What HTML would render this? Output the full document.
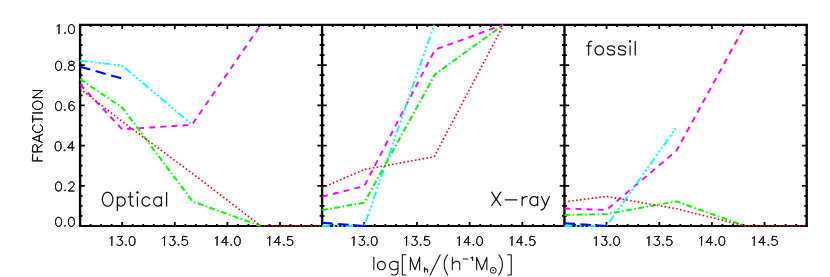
<!DOCTYPE html>
<html><head><meta charset="utf-8"><title>plot</title><style>html,body{margin:0;padding:0;background:#fff;font-family:"Liberation Sans",sans-serif}svg{display:block}</style></head><body><svg width="830" height="277" viewBox="0 0 830 277">
<rect width="830" height="277" fill="#fff"/>
<path d="M78.93 24.9H807.87M78.93 226.0H807.87" stroke="#000" stroke-width="2.15" fill="none"/><path d="M80.1 24.9V226.0M322.1 24.9V226.0M564.45 24.9V226.0M806.7 24.9V226.0" stroke="#000" stroke-width="2.35" fill="none"/>
<path d="M90.62 226.00v-2.00M90.62 24.90v2.00M101.14 226.00v-2.00M101.14 24.90v2.00M111.67 226.00v-2.00M111.67 24.90v2.00M122.19 226.00v-4.00M122.19 24.90v4.00M132.71 226.00v-2.00M132.71 24.90v2.00M143.23 226.00v-2.00M143.23 24.90v2.00M153.75 226.00v-2.00M153.75 24.90v2.00M164.27 226.00v-2.00M164.27 24.90v2.00M174.80 226.00v-4.00M174.80 24.90v4.00M185.32 226.00v-2.00M185.32 24.90v2.00M195.84 226.00v-2.00M195.84 24.90v2.00M206.36 226.00v-2.00M206.36 24.90v2.00M216.88 226.00v-2.00M216.88 24.90v2.00M227.40 226.00v-4.00M227.40 24.90v4.00M237.93 226.00v-2.00M237.93 24.90v2.00M248.45 226.00v-2.00M248.45 24.90v2.00M258.97 226.00v-2.00M258.97 24.90v2.00M269.49 226.00v-2.00M269.49 24.90v2.00M280.01 226.00v-4.00M280.01 24.90v4.00M290.53 226.00v-2.00M290.53 24.90v2.00M301.06 226.00v-2.00M301.06 24.90v2.00M311.58 226.00v-2.00M311.58 24.90v2.00M332.64 226.00v-2.00M332.64 24.90v2.00M343.17 226.00v-2.00M343.17 24.90v2.00M353.71 226.00v-2.00M353.71 24.90v2.00M364.25 226.00v-4.00M364.25 24.90v4.00M374.78 226.00v-2.00M374.78 24.90v2.00M385.32 226.00v-2.00M385.32 24.90v2.00M395.86 226.00v-2.00M395.86 24.90v2.00M406.40 226.00v-2.00M406.40 24.90v2.00M416.93 226.00v-4.00M416.93 24.90v4.00M427.47 226.00v-2.00M427.47 24.90v2.00M438.01 226.00v-2.00M438.01 24.90v2.00M448.54 226.00v-2.00M448.54 24.90v2.00M459.08 226.00v-2.00M459.08 24.90v2.00M469.62 226.00v-4.00M469.62 24.90v4.00M480.15 226.00v-2.00M480.15 24.90v2.00M490.69 226.00v-2.00M490.69 24.90v2.00M501.23 226.00v-2.00M501.23 24.90v2.00M511.77 226.00v-2.00M511.77 24.90v2.00M522.30 226.00v-4.00M522.30 24.90v4.00M532.84 226.00v-2.00M532.84 24.90v2.00M543.38 226.00v-2.00M543.38 24.90v2.00M553.91 226.00v-2.00M553.91 24.90v2.00M574.98 226.00v-2.00M574.98 24.90v2.00M585.52 226.00v-2.00M585.52 24.90v2.00M596.05 226.00v-2.00M596.05 24.90v2.00M606.58 226.00v-4.00M606.58 24.90v4.00M617.11 226.00v-2.00M617.11 24.90v2.00M627.65 226.00v-2.00M627.65 24.90v2.00M638.18 226.00v-2.00M638.18 24.90v2.00M648.71 226.00v-2.00M648.71 24.90v2.00M659.24 226.00v-4.00M659.24 24.90v4.00M669.78 226.00v-2.00M669.78 24.90v2.00M680.31 226.00v-2.00M680.31 24.90v2.00M690.84 226.00v-2.00M690.84 24.90v2.00M701.37 226.00v-2.00M701.37 24.90v2.00M711.91 226.00v-4.00M711.91 24.90v4.00M722.44 226.00v-2.00M722.44 24.90v2.00M732.97 226.00v-2.00M732.97 24.90v2.00M743.50 226.00v-2.00M743.50 24.90v2.00M754.04 226.00v-2.00M754.04 24.90v2.00M764.57 226.00v-4.00M764.57 24.90v4.00M775.10 226.00v-2.00M775.10 24.90v2.00M785.63 226.00v-2.00M785.63 24.90v2.00M796.17 226.00v-2.00M796.17 24.90v2.00M80.10 215.94h2.45M319.65 215.94h4.90M562.00 215.94h4.90M806.70 215.94h-2.45M80.10 205.89h2.45M319.65 205.89h4.90M562.00 205.89h4.90M806.70 205.89h-2.45M80.10 195.84h2.45M319.65 195.84h4.90M562.00 195.84h4.90M806.70 195.84h-2.45M80.10 185.78h4.70M317.40 185.78h9.40M559.75 185.78h9.40M806.70 185.78h-4.70M80.10 175.72h2.45M319.65 175.72h4.90M562.00 175.72h4.90M806.70 175.72h-2.45M80.10 165.67h2.45M319.65 165.67h4.90M562.00 165.67h4.90M806.70 165.67h-2.45M80.10 155.62h2.45M319.65 155.62h4.90M562.00 155.62h4.90M806.70 155.62h-2.45M80.10 145.56h4.70M317.40 145.56h9.40M559.75 145.56h9.40M806.70 145.56h-4.70M80.10 135.50h2.45M319.65 135.50h4.90M562.00 135.50h4.90M806.70 135.50h-2.45M80.10 125.45h2.45M319.65 125.45h4.90M562.00 125.45h4.90M806.70 125.45h-2.45M80.10 115.39h2.45M319.65 115.39h4.90M562.00 115.39h4.90M806.70 115.39h-2.45M80.10 105.34h4.70M317.40 105.34h9.40M559.75 105.34h9.40M806.70 105.34h-4.70M80.10 95.28h2.45M319.65 95.28h4.90M562.00 95.28h4.90M806.70 95.28h-2.45M80.10 85.23h2.45M319.65 85.23h4.90M562.00 85.23h4.90M806.70 85.23h-2.45M80.10 75.18h2.45M319.65 75.18h4.90M562.00 75.18h4.90M806.70 75.18h-2.45M80.10 65.12h4.70M317.40 65.12h9.40M559.75 65.12h9.40M806.70 65.12h-4.70M80.10 55.06h2.45M319.65 55.06h4.90M562.00 55.06h4.90M806.70 55.06h-2.45M80.10 45.01h2.45M319.65 45.01h4.90M562.00 45.01h4.90M806.70 45.01h-2.45M80.10 34.95h2.45M319.65 34.95h4.90M562.00 34.95h4.90M806.70 34.95h-2.45" stroke="#000" stroke-width="1.8" fill="none"/>
<path d="M80.10 84.43 L122.19 129.27 L191.95 124.85 L260.86 24.90" stroke="#ff00ff" stroke-width="1.9" stroke-dasharray="5.95 5.13" fill="none" stroke-linejoin="round"/>
<path d="M80.10 60.70 L122.19 65.52 L191.95 124.44" stroke="#00ffff" stroke-width="1.8" stroke-dasharray="7.691 3.036 2.024 2.024 2.024 2.024 2.024 2.226" fill="none" stroke-linejoin="round"/>
<path d="M80.10 66.73 L122.19 78.59" stroke="#0000ff" stroke-width="2.1" stroke-dasharray="10.5 5.6" fill="none" stroke-linejoin="round"/>
<path d="M80.10 79.20 L122.19 107.55 L192.68 201.47 L260.86 226.00" stroke="#00ff00" stroke-width="2.0" stroke-dasharray="5.8 2.55 1.5 2.55" fill="none" stroke-linejoin="round"/>
<path d="M80.10 88.65 L122.19 121.43 L191.95 173.11 L260.86 226.00 L322.10 226.00" stroke="#ff0000" stroke-width="1.65" stroke-dasharray="1.55 2.35" fill="none" stroke-linejoin="round"/>
<path d="M322.10 196.64 L364.25 186.18 L434.95 49.64 L503.12 24.90" stroke="#ff00ff" stroke-width="1.9" stroke-dasharray="5.95 5.13" fill="none" stroke-linejoin="round"/>
<path d="M322.10 226.00 L364.25 226.00 L434.11 24.90" stroke="#00ffff" stroke-width="1.8" stroke-dasharray="7.828 3.090 2.060 2.060 2.060 2.060 2.060 2.266" fill="none" stroke-linejoin="round"/>
<path d="M322.10 222.78 L364.25 226.00" stroke="#0000ff" stroke-width="2.1" stroke-dasharray="10.5 5.6" fill="none" stroke-linejoin="round"/>
<path d="M322.10 210.11 L364.25 202.67 L435.06 74.37 L503.12 24.90" stroke="#00ff00" stroke-width="2.0" stroke-dasharray="5.8 2.55 1.5 2.55" fill="none" stroke-linejoin="round"/>
<path d="M322.10 187.79 L364.25 169.49 L434.11 156.82 L503.55 24.90" stroke="#ff0000" stroke-width="1.65" stroke-dasharray="1.55 2.35" fill="none" stroke-linejoin="round"/>
<path d="M564.45 208.50 L606.58 209.91 L676.41 150.79 L745.40 24.90" stroke="#ff00ff" stroke-width="1.9" stroke-dasharray="5.95 5.13" fill="none" stroke-linejoin="round"/>
<path d="M564.45 226.00 L606.58 226.00 L676.41 127.46" stroke="#00ffff" stroke-width="1.8" stroke-dasharray="7.828 3.090 2.060 2.060 2.060 2.060 2.060 2.266" fill="none" stroke-linejoin="round"/>
<path d="M564.45 223.18 L606.58 226.00" stroke="#0000ff" stroke-width="2.1" stroke-dasharray="10.5 5.6" fill="none" stroke-linejoin="round"/>
<path d="M564.45 214.94 L606.58 214.14 L676.41 201.37 L745.40 226.00" stroke="#00ff00" stroke-width="2.0" stroke-dasharray="5.8 2.55 1.5 2.55" fill="none" stroke-linejoin="round"/>
<path d="M564.45 201.77 L606.58 196.44 L676.41 208.71 L745.40 226.00 L806.70 226.00" stroke="#ff0000" stroke-width="1.65" stroke-dasharray="1.55 2.35" fill="none" stroke-linejoin="round"/>
<path d="M58.11 182.00L58.97 182.00L60.26 182.43L61.12 183.72L61.55 185.87L61.55 187.16L61.12 189.31L60.26 190.60L58.97 191.03L58.11 191.03L56.82 190.60L55.96 189.31L55.53 187.16L55.53 185.87L55.96 183.72L56.82 182.43ZM58.11 182.00L56.82 182.43L55.96 183.72L55.53 185.87L55.53 187.16L55.96 189.31L56.82 190.60L58.11 191.03L58.97 191.03L60.26 190.60L61.12 189.31L61.55 187.16L61.55 185.87L61.12 183.72L60.26 182.43L58.97 182.00ZM64.99 190.17L65.42 190.60L64.99 191.03L64.56 190.60ZM64.99 190.17L64.56 190.60L64.99 191.03L65.42 190.60ZM70.58 182.00L69.72 182.43L69.29 182.86L68.86 183.72L68.86 184.15L68.86 183.72L69.29 182.86L69.72 182.43L70.58 182.00L72.30 182.00L73.16 182.43L73.59 182.86L74.02 183.72L74.02 184.58L72.73 186.73L68.43 191.03L74.45 191.03L68.43 191.03L72.73 186.73L74.02 184.58L74.02 183.72L73.59 182.86L73.16 182.43L72.30 182.00Z" stroke="#111" stroke-width="0.95" fill="none" stroke-linejoin="round" stroke-linecap="round"/>
<path d="M57.68 141.78L58.54 141.78L59.83 142.21L60.69 143.50L61.12 145.65L61.12 146.94L60.69 149.09L59.83 150.38L58.54 150.81L57.68 150.81L56.39 150.38L55.53 149.09L55.10 146.94L55.10 145.65L55.53 143.50L56.39 142.21ZM57.68 141.78L56.39 142.21L55.53 143.50L55.10 145.65L55.10 146.94L55.53 149.09L56.39 150.38L57.68 150.81L58.54 150.81L59.83 150.38L60.69 149.09L61.12 146.94L61.12 145.65L60.69 143.50L59.83 142.21L58.54 141.78ZM64.56 149.95L64.99 150.38L64.56 150.81L64.13 150.38ZM64.56 149.95L64.13 150.38L64.56 150.81L64.99 150.38ZM72.30 141.78L72.30 147.80L68.00 147.80ZM72.30 141.78L68.00 147.80L72.30 147.80L72.30 150.81L72.30 147.80L74.45 147.80L72.30 147.80Z" stroke="#111" stroke-width="0.95" fill="none" stroke-linejoin="round" stroke-linecap="round"/>
<path d="M58.11 101.56L58.97 101.56L60.26 101.99L61.12 103.28L61.55 105.43L61.55 106.72L61.12 108.87L60.26 110.16L58.97 110.59L58.11 110.59L56.82 110.16L55.96 108.87L55.53 106.72L55.53 105.43L55.96 103.28L56.82 101.99ZM58.11 101.56L56.82 101.99L55.96 103.28L55.53 105.43L55.53 106.72L55.96 108.87L56.82 110.16L58.11 110.59L58.97 110.59L60.26 110.16L61.12 108.87L61.55 106.72L61.55 105.43L61.12 103.28L60.26 101.99L58.97 101.56ZM64.99 109.73L65.42 110.16L64.99 110.59L64.56 110.16ZM64.99 109.73L64.56 110.16L64.99 110.59L65.42 110.16ZM71.44 105.00L71.87 105.00L73.16 105.43L74.02 106.29L74.45 107.58L74.45 108.01L74.02 109.30L73.16 110.16L71.87 110.59L71.44 110.59L70.15 110.16L69.29 109.30L68.86 107.58L69.29 106.29L70.15 105.43ZM71.44 101.56L72.30 101.56L73.59 101.99L74.02 102.85L73.59 101.99L72.30 101.56L71.44 101.56L70.15 101.99L69.29 103.28L68.86 105.43L68.86 107.58L69.29 109.30L70.15 110.16L71.44 110.59L71.87 110.59L73.16 110.16L74.02 109.30L74.45 108.01L74.45 107.58L74.02 106.29L73.16 105.43L71.87 105.00L71.44 105.00L70.15 105.43L69.29 106.29L68.86 107.58L68.86 105.43L69.29 103.28L70.15 101.99Z" stroke="#111" stroke-width="0.95" fill="none" stroke-linejoin="round" stroke-linecap="round"/>
<path d="M58.11 61.34L58.97 61.34L60.26 61.77L61.12 63.06L61.55 65.21L61.55 66.50L61.12 68.65L60.26 69.94L58.97 70.37L58.11 70.37L56.82 69.94L55.96 68.65L55.53 66.50L55.53 65.21L55.96 63.06L56.82 61.77ZM58.11 61.34L56.82 61.77L55.96 63.06L55.53 65.21L55.53 66.50L55.96 68.65L56.82 69.94L58.11 70.37L58.97 70.37L60.26 69.94L61.12 68.65L61.55 66.50L61.55 65.21L61.12 63.06L60.26 61.77L58.97 61.34ZM64.99 69.51L65.42 69.94L64.99 70.37L64.56 69.94ZM64.99 69.51L64.56 69.94L64.99 70.37L65.42 69.94ZM69.72 65.64L71.44 65.21L73.16 65.64L74.02 66.50L74.45 67.36L74.45 68.65L74.02 69.51L73.59 69.94L72.30 70.37L70.58 70.37L69.29 69.94L68.86 69.51L68.43 68.65L68.43 67.36L68.86 66.50ZM68.86 62.63L69.29 61.77L70.58 61.34L72.30 61.34L73.59 61.77L74.02 62.63L74.02 63.49L73.59 64.35L72.73 64.78L71.44 65.21L70.15 64.78L69.29 64.35L68.86 63.49ZM70.58 61.34L69.29 61.77L68.86 62.63L68.86 63.49L69.29 64.35L70.15 64.78L71.44 65.21L69.72 65.64L68.86 66.50L68.43 67.36L68.43 68.65L68.86 69.51L69.29 69.94L70.58 70.37L72.30 70.37L73.59 69.94L74.02 69.51L74.45 68.65L74.45 67.36L74.02 66.50L73.16 65.64L71.44 65.21L72.73 64.78L73.59 64.35L74.02 63.49L74.02 62.63L73.59 61.77L72.30 61.34Z" stroke="#111" stroke-width="0.95" fill="none" stroke-linejoin="round" stroke-linecap="round"/>
<path d="M58.97 24.62L57.68 25.91L56.82 26.34L57.68 25.91L58.97 24.62L58.97 33.65ZM64.99 32.79L65.42 33.22L64.99 33.65L64.56 33.22ZM64.99 32.79L64.56 33.22L64.99 33.65L65.42 33.22ZM71.01 24.62L71.87 24.62L73.16 25.05L74.02 26.34L74.45 28.49L74.45 29.78L74.02 31.93L73.16 33.22L71.87 33.65L71.01 33.65L69.72 33.22L68.86 31.93L68.43 29.78L68.43 28.49L68.86 26.34L69.72 25.05ZM71.01 24.62L69.72 25.05L68.86 26.34L68.43 28.49L68.43 29.78L68.86 31.93L69.72 33.22L71.01 33.65L71.87 33.65L73.16 33.22L74.02 31.93L74.45 29.78L74.45 28.49L74.02 26.34L73.16 25.05L71.87 24.62Z" stroke="#111" stroke-width="0.95" fill="none" stroke-linejoin="round" stroke-linecap="round"/>
<path d="M58.11 217.37L58.97 217.37L60.26 217.80L61.12 219.09L61.55 221.24L61.55 222.53L61.12 224.68L60.26 225.97L58.97 226.40L58.11 226.40L56.82 225.97L55.96 224.68L55.53 222.53L55.53 221.24L55.96 219.09L56.82 217.80ZM58.11 217.37L56.82 217.80L55.96 219.09L55.53 221.24L55.53 222.53L55.96 224.68L56.82 225.97L58.11 226.40L58.97 226.40L60.26 225.97L61.12 224.68L61.55 222.53L61.55 221.24L61.12 219.09L60.26 217.80L58.97 217.37ZM64.99 225.54L65.42 225.97L64.99 226.40L64.56 225.97ZM64.99 225.54L64.56 225.97L64.99 226.40L65.42 225.97ZM71.01 217.37L71.87 217.37L73.16 217.80L74.02 219.09L74.45 221.24L74.45 222.53L74.02 224.68L73.16 225.97L71.87 226.40L71.01 226.40L69.72 225.97L68.86 224.68L68.43 222.53L68.43 221.24L68.86 219.09L69.72 217.80ZM71.01 217.37L69.72 217.80L68.86 219.09L68.43 221.24L68.43 222.53L68.86 224.68L69.72 225.97L71.01 226.40L71.87 226.40L73.16 225.97L74.02 224.68L74.45 222.53L74.45 221.24L74.02 219.09L73.16 217.80L71.87 217.37Z" stroke="#111" stroke-width="0.95" fill="none" stroke-linejoin="round" stroke-linecap="round"/>
<path d="M111.80 236.63L110.56 237.89L109.73 238.31L110.56 237.89L111.80 236.63L111.80 245.45ZM117.61 236.63L122.18 236.63L119.69 239.99L120.93 239.99L121.76 240.41L122.18 240.83L122.59 242.09L122.59 242.93L122.18 244.19L121.35 245.03L120.10 245.45L118.86 245.45L117.61 245.03L117.20 244.61L116.78 243.77L117.20 244.61L117.61 245.03L118.86 245.45L120.10 245.45L121.35 245.03L122.18 244.19L122.59 242.93L122.59 242.09L122.18 240.83L121.76 240.41L120.93 239.99L119.69 239.99L122.18 236.63ZM125.91 244.61L126.33 245.03L125.91 245.45L125.50 245.03ZM125.91 244.61L125.50 245.03L125.91 245.45L126.33 245.03ZM131.72 236.63L132.55 236.63L133.80 237.05L134.63 238.31L135.04 240.41L135.04 241.67L134.63 243.77L133.80 245.03L132.55 245.45L131.72 245.45L130.48 245.03L129.65 243.77L129.23 241.67L129.23 240.41L129.65 238.31L130.48 237.05ZM131.72 236.63L130.48 237.05L129.65 238.31L129.23 240.41L129.23 241.67L129.65 243.77L130.48 245.03L131.72 245.45L132.55 245.45L133.80 245.03L134.63 243.77L135.04 241.67L135.04 240.41L134.63 238.31L133.80 237.05L132.55 236.63Z" stroke="#111" stroke-width="0.95" fill="none" stroke-linejoin="round" stroke-linecap="round"/>
<path d="M164.41 236.63L163.17 237.89L162.34 238.31L163.17 237.89L164.41 236.63L164.41 245.45ZM170.22 236.63L174.79 236.63L172.30 239.99L173.54 239.99L174.37 240.41L174.79 240.83L175.20 242.09L175.20 242.93L174.79 244.19L173.96 245.03L172.71 245.45L171.47 245.45L170.22 245.03L169.81 244.61L169.39 243.77L169.81 244.61L170.22 245.03L171.47 245.45L172.71 245.45L173.96 245.03L174.79 244.19L175.20 242.93L175.20 242.09L174.79 240.83L174.37 240.41L173.54 239.99L172.30 239.99L174.79 236.63ZM178.52 244.61L178.94 245.03L178.52 245.45L178.11 245.03ZM178.52 244.61L178.11 245.03L178.52 245.45L178.94 245.03ZM182.67 236.63L182.26 240.41L182.67 239.99L183.92 239.57L185.16 239.57L186.41 239.99L187.24 240.83L187.65 242.09L187.65 242.93L187.24 244.19L186.41 245.03L185.16 245.45L183.92 245.45L182.67 245.03L182.26 244.61L181.84 243.77L182.26 244.61L182.67 245.03L183.92 245.45L185.16 245.45L186.41 245.03L187.24 244.19L187.65 242.93L187.65 242.09L187.24 240.83L186.41 239.99L185.16 239.57L183.92 239.57L182.67 239.99L182.26 240.41L182.67 236.63L186.82 236.63Z" stroke="#111" stroke-width="0.95" fill="none" stroke-linejoin="round" stroke-linecap="round"/>
<path d="M217.02 236.63L215.78 237.89L214.95 238.31L215.78 237.89L217.02 236.63L217.02 245.45ZM226.15 236.63L226.15 242.51L222.00 242.51ZM226.15 236.63L222.00 242.51L226.15 242.51L226.15 245.45L226.15 242.51L228.23 242.51L226.15 242.51ZM231.13 244.61L231.55 245.03L231.13 245.45L230.72 245.03ZM231.13 244.61L230.72 245.03L231.13 245.45L231.55 245.03ZM236.94 236.63L237.77 236.63L239.02 237.05L239.85 238.31L240.26 240.41L240.26 241.67L239.85 243.77L239.02 245.03L237.77 245.45L236.94 245.45L235.70 245.03L234.87 243.77L234.45 241.67L234.45 240.41L234.87 238.31L235.70 237.05ZM236.94 236.63L235.70 237.05L234.87 238.31L234.45 240.41L234.45 241.67L234.87 243.77L235.70 245.03L236.94 245.45L237.77 245.45L239.02 245.03L239.85 243.77L240.26 241.67L240.26 240.41L239.85 238.31L239.02 237.05L237.77 236.63Z" stroke="#111" stroke-width="0.95" fill="none" stroke-linejoin="round" stroke-linecap="round"/>
<path d="M269.63 236.63L268.39 237.89L267.56 238.31L268.39 237.89L269.63 236.63L269.63 245.45ZM278.76 236.63L278.76 242.51L274.61 242.51ZM278.76 236.63L274.61 242.51L278.76 242.51L278.76 245.45L278.76 242.51L280.84 242.51L278.76 242.51ZM283.74 244.61L284.16 245.03L283.74 245.45L283.33 245.03ZM283.74 244.61L283.33 245.03L283.74 245.45L284.16 245.03ZM287.89 236.63L287.48 240.41L287.89 239.99L289.14 239.57L290.38 239.57L291.63 239.99L292.46 240.83L292.87 242.09L292.87 242.93L292.46 244.19L291.63 245.03L290.38 245.45L289.14 245.45L287.89 245.03L287.48 244.61L287.06 243.77L287.48 244.61L287.89 245.03L289.14 245.45L290.38 245.45L291.63 245.03L292.46 244.19L292.87 242.93L292.87 242.09L292.46 240.83L291.63 239.99L290.38 239.57L289.14 239.57L287.89 239.99L287.48 240.41L287.89 236.63L292.04 236.63Z" stroke="#111" stroke-width="0.95" fill="none" stroke-linejoin="round" stroke-linecap="round"/>
<path d="M353.87 236.63L352.62 237.89L351.79 238.31L352.62 237.89L353.87 236.63L353.87 245.45ZM359.68 236.63L364.24 236.63L361.75 239.99L363.00 239.99L363.83 240.41L364.24 240.83L364.66 242.09L364.66 242.93L364.24 244.19L363.41 245.03L362.17 245.45L360.92 245.45L359.68 245.03L359.26 244.61L358.85 243.77L359.26 244.61L359.68 245.03L360.92 245.45L362.17 245.45L363.41 245.03L364.24 244.19L364.66 242.93L364.66 242.09L364.24 240.83L363.83 240.41L363.00 239.99L361.75 239.99L364.24 236.63ZM367.98 244.61L368.39 245.03L367.98 245.45L367.56 245.03ZM367.98 244.61L367.56 245.03L367.98 245.45L368.39 245.03ZM373.79 236.63L374.62 236.63L375.86 237.05L376.69 238.31L377.11 240.41L377.11 241.67L376.69 243.77L375.86 245.03L374.62 245.45L373.79 245.45L372.54 245.03L371.71 243.77L371.30 241.67L371.30 240.41L371.71 238.31L372.54 237.05ZM373.79 236.63L372.54 237.05L371.71 238.31L371.30 240.41L371.30 241.67L371.71 243.77L372.54 245.03L373.79 245.45L374.62 245.45L375.86 245.03L376.69 243.77L377.11 241.67L377.11 240.41L376.69 238.31L375.86 237.05L374.62 236.63Z" stroke="#111" stroke-width="0.95" fill="none" stroke-linejoin="round" stroke-linecap="round"/>
<path d="M406.55 236.63L405.31 237.89L404.48 238.31L405.31 237.89L406.55 236.63L406.55 245.45ZM412.36 236.63L416.93 236.63L414.44 239.99L415.68 239.99L416.51 240.41L416.93 240.83L417.34 242.09L417.34 242.93L416.93 244.19L416.10 245.03L414.85 245.45L413.61 245.45L412.36 245.03L411.95 244.61L411.53 243.77L411.95 244.61L412.36 245.03L413.61 245.45L414.85 245.45L416.10 245.03L416.93 244.19L417.34 242.93L417.34 242.09L416.93 240.83L416.51 240.41L415.68 239.99L414.44 239.99L416.93 236.63ZM420.66 244.61L421.08 245.03L420.66 245.45L420.25 245.03ZM420.66 244.61L420.25 245.03L420.66 245.45L421.08 245.03ZM424.81 236.63L424.40 240.41L424.81 239.99L426.06 239.57L427.30 239.57L428.55 239.99L429.38 240.83L429.79 242.09L429.79 242.93L429.38 244.19L428.55 245.03L427.30 245.45L426.06 245.45L424.81 245.03L424.40 244.61L423.98 243.77L424.40 244.61L424.81 245.03L426.06 245.45L427.30 245.45L428.55 245.03L429.38 244.19L429.79 242.93L429.79 242.09L429.38 240.83L428.55 239.99L427.30 239.57L426.06 239.57L424.81 239.99L424.40 240.41L424.81 236.63L428.96 236.63Z" stroke="#111" stroke-width="0.95" fill="none" stroke-linejoin="round" stroke-linecap="round"/>
<path d="M459.23 236.63L457.99 237.89L457.16 238.31L457.99 237.89L459.23 236.63L459.23 245.45ZM468.36 236.63L468.36 242.51L464.21 242.51ZM468.36 236.63L464.21 242.51L468.36 242.51L468.36 245.45L468.36 242.51L470.44 242.51L468.36 242.51ZM473.34 244.61L473.76 245.03L473.34 245.45L472.93 245.03ZM473.34 244.61L472.93 245.03L473.34 245.45L473.76 245.03ZM479.15 236.63L479.98 236.63L481.23 237.05L482.06 238.31L482.47 240.41L482.47 241.67L482.06 243.77L481.23 245.03L479.98 245.45L479.15 245.45L477.91 245.03L477.08 243.77L476.66 241.67L476.66 240.41L477.08 238.31L477.91 237.05ZM479.15 236.63L477.91 237.05L477.08 238.31L476.66 240.41L476.66 241.67L477.08 243.77L477.91 245.03L479.15 245.45L479.98 245.45L481.23 245.03L482.06 243.77L482.47 241.67L482.47 240.41L482.06 238.31L481.23 237.05L479.98 236.63Z" stroke="#111" stroke-width="0.95" fill="none" stroke-linejoin="round" stroke-linecap="round"/>
<path d="M511.92 236.63L510.67 237.89L509.84 238.31L510.67 237.89L511.92 236.63L511.92 245.45ZM521.05 236.63L521.05 242.51L516.90 242.51ZM521.05 236.63L516.90 242.51L521.05 242.51L521.05 245.45L521.05 242.51L523.12 242.51L521.05 242.51ZM526.03 244.61L526.44 245.03L526.03 245.45L525.61 245.03ZM526.03 244.61L525.61 245.03L526.03 245.45L526.44 245.03ZM530.18 236.63L529.76 240.41L530.18 239.99L531.42 239.57L532.67 239.57L533.91 239.99L534.74 240.83L535.16 242.09L535.16 242.93L534.74 244.19L533.91 245.03L532.67 245.45L531.42 245.45L530.18 245.03L529.76 244.61L529.35 243.77L529.76 244.61L530.18 245.03L531.42 245.45L532.67 245.45L533.91 245.03L534.74 244.19L535.16 242.93L535.16 242.09L534.74 240.83L533.91 239.99L532.67 239.57L531.42 239.57L530.18 239.99L529.76 240.41L530.18 236.63L534.33 236.63Z" stroke="#111" stroke-width="0.95" fill="none" stroke-linejoin="round" stroke-linecap="round"/>
<path d="M596.20 236.63L594.95 237.89L594.12 238.31L594.95 237.89L596.20 236.63L596.20 245.45ZM602.01 236.63L606.57 236.63L604.08 239.99L605.33 239.99L606.16 240.41L606.57 240.83L606.99 242.09L606.99 242.93L606.57 244.19L605.74 245.03L604.50 245.45L603.25 245.45L602.01 245.03L601.59 244.61L601.18 243.77L601.59 244.61L602.01 245.03L603.25 245.45L604.50 245.45L605.74 245.03L606.57 244.19L606.99 242.93L606.99 242.09L606.57 240.83L606.16 240.41L605.33 239.99L604.08 239.99L606.57 236.63ZM610.31 244.61L610.72 245.03L610.31 245.45L609.89 245.03ZM610.31 244.61L609.89 245.03L610.31 245.45L610.72 245.03ZM616.12 236.63L616.95 236.63L618.19 237.05L619.02 238.31L619.44 240.41L619.44 241.67L619.02 243.77L618.19 245.03L616.95 245.45L616.12 245.45L614.87 245.03L614.04 243.77L613.63 241.67L613.63 240.41L614.04 238.31L614.87 237.05ZM616.12 236.63L614.87 237.05L614.04 238.31L613.63 240.41L613.63 241.67L614.04 243.77L614.87 245.03L616.12 245.45L616.95 245.45L618.19 245.03L619.02 243.77L619.44 241.67L619.44 240.41L619.02 238.31L618.19 237.05L616.95 236.63Z" stroke="#111" stroke-width="0.95" fill="none" stroke-linejoin="round" stroke-linecap="round"/>
<path d="M648.86 236.63L647.62 237.89L646.79 238.31L647.62 237.89L648.86 236.63L648.86 245.45ZM654.67 236.63L659.24 236.63L656.75 239.99L657.99 239.99L658.82 240.41L659.24 240.83L659.65 242.09L659.65 242.93L659.24 244.19L658.41 245.03L657.16 245.45L655.92 245.45L654.67 245.03L654.26 244.61L653.84 243.77L654.26 244.61L654.67 245.03L655.92 245.45L657.16 245.45L658.41 245.03L659.24 244.19L659.65 242.93L659.65 242.09L659.24 240.83L658.82 240.41L657.99 239.99L656.75 239.99L659.24 236.63ZM662.97 244.61L663.39 245.03L662.97 245.45L662.56 245.03ZM662.97 244.61L662.56 245.03L662.97 245.45L663.39 245.03ZM667.12 236.63L666.71 240.41L667.12 239.99L668.37 239.57L669.61 239.57L670.86 239.99L671.69 240.83L672.10 242.09L672.10 242.93L671.69 244.19L670.86 245.03L669.61 245.45L668.37 245.45L667.12 245.03L666.71 244.61L666.29 243.77L666.71 244.61L667.12 245.03L668.37 245.45L669.61 245.45L670.86 245.03L671.69 244.19L672.10 242.93L672.10 242.09L671.69 240.83L670.86 239.99L669.61 239.57L668.37 239.57L667.12 239.99L666.71 240.41L667.12 236.63L671.27 236.63Z" stroke="#111" stroke-width="0.95" fill="none" stroke-linejoin="round" stroke-linecap="round"/>
<path d="M701.52 236.63L700.28 237.89L699.45 238.31L700.28 237.89L701.52 236.63L701.52 245.45ZM710.65 236.63L710.65 242.51L706.50 242.51ZM710.65 236.63L706.50 242.51L710.65 242.51L710.65 245.45L710.65 242.51L712.73 242.51L710.65 242.51ZM715.63 244.61L716.05 245.03L715.63 245.45L715.22 245.03ZM715.63 244.61L715.22 245.03L715.63 245.45L716.05 245.03ZM721.44 236.63L722.27 236.63L723.52 237.05L724.35 238.31L724.76 240.41L724.76 241.67L724.35 243.77L723.52 245.03L722.27 245.45L721.44 245.45L720.20 245.03L719.37 243.77L718.95 241.67L718.95 240.41L719.37 238.31L720.20 237.05ZM721.44 236.63L720.20 237.05L719.37 238.31L718.95 240.41L718.95 241.67L719.37 243.77L720.20 245.03L721.44 245.45L722.27 245.45L723.52 245.03L724.35 243.77L724.76 241.67L724.76 240.41L724.35 238.31L723.52 237.05L722.27 236.63Z" stroke="#111" stroke-width="0.95" fill="none" stroke-linejoin="round" stroke-linecap="round"/>
<path d="M754.19 236.63L752.94 237.89L752.11 238.31L752.94 237.89L754.19 236.63L754.19 245.45ZM763.32 236.63L763.32 242.51L759.17 242.51ZM763.32 236.63L759.17 242.51L763.32 242.51L763.32 245.45L763.32 242.51L765.39 242.51L763.32 242.51ZM768.30 244.61L768.71 245.03L768.30 245.45L767.88 245.03ZM768.30 244.61L767.88 245.03L768.30 245.45L768.71 245.03ZM772.45 236.63L772.03 240.41L772.45 239.99L773.69 239.57L774.94 239.57L776.18 239.99L777.01 240.83L777.43 242.09L777.43 242.93L777.01 244.19L776.18 245.03L774.94 245.45L773.69 245.45L772.45 245.03L772.03 244.61L771.62 243.77L772.03 244.61L772.45 245.03L773.69 245.45L774.94 245.45L776.18 245.03L777.01 244.19L777.43 242.93L777.43 242.09L777.01 240.83L776.18 239.99L774.94 239.57L773.69 239.57L772.45 239.99L772.03 240.41L772.45 236.63L776.60 236.63Z" stroke="#111" stroke-width="0.95" fill="none" stroke-linejoin="round" stroke-linecap="round"/>
<path d="M32.70 154.27L32.70 160.90L42.50 160.90L37.37 160.90L37.37 156.82L37.37 160.90L32.70 160.90ZM32.70 151.72L32.70 147.13L33.17 145.60L33.63 145.09L34.57 144.58L35.50 144.58L36.43 145.09L36.90 145.60L37.37 147.13L37.37 151.72ZM32.70 151.72L42.50 151.72L37.37 151.72L37.37 148.15L42.50 144.58L37.37 148.15L37.37 147.13L36.90 145.60L36.43 145.09L35.50 144.58L34.57 144.58L33.63 145.09L33.17 145.60L32.70 147.13ZM39.23 141.00L39.23 135.90ZM32.70 138.45L42.50 142.53L32.70 138.45L42.50 134.37ZM32.70 129.27L32.70 127.23L33.17 126.21L34.10 125.19L35.03 124.68L34.10 125.19L33.17 126.21L32.70 127.23L32.70 129.27L33.17 130.29L34.10 131.31L36.43 132.33L38.77 132.33L41.10 131.31L42.03 130.29L42.50 129.27L42.50 127.23L42.03 126.21L41.10 125.19L40.17 124.68L41.10 125.19L42.03 126.21L42.50 127.23L42.50 129.27L42.03 130.29L41.10 131.31L38.77 132.33L36.43 132.33L35.03 131.82L34.10 131.31L33.17 130.29ZM32.70 115.50L32.70 122.64L32.70 119.07L42.50 119.07L32.70 119.07ZM32.70 112.95L42.50 112.95ZM32.70 106.31L32.70 104.27L33.17 103.25L34.10 102.23L36.43 101.21L38.77 101.21L40.17 101.72L41.10 102.23L42.03 103.25L42.50 104.27L42.50 106.31L42.03 107.33L41.10 108.36L38.77 109.38L36.43 109.38L35.03 108.87L34.10 108.36L33.17 107.33ZM32.70 106.31L33.17 107.33L34.10 108.36L35.03 108.87L36.43 109.38L38.77 109.38L41.10 108.36L42.03 107.33L42.50 106.31L42.50 104.27L42.03 103.25L41.10 102.23L40.17 101.72L38.77 101.21L36.43 101.21L34.10 102.23L33.17 103.25L32.70 104.27ZM32.70 97.64L42.50 97.64L32.70 97.64L42.50 90.50L32.70 90.50L42.50 90.50Z" stroke="#111" stroke-width="1.0" fill="none" stroke-linejoin="round" stroke-linecap="round"/>
<path d="M106.34 192.44L108.93 192.44L110.23 193.09L111.52 194.39L112.82 197.63L112.82 200.87L112.17 202.81L111.52 204.11L110.23 205.40L108.93 206.05L106.34 206.05L105.04 205.40L103.75 204.11L102.45 200.87L102.45 197.63L103.10 195.68L103.75 194.39L105.04 193.09ZM106.34 192.44L105.04 193.09L103.75 194.39L103.10 195.68L102.45 197.63L102.45 200.87L103.75 204.11L105.04 205.40L106.34 206.05L108.93 206.05L110.23 205.40L111.52 204.11L112.17 202.81L112.82 200.87L112.82 197.63L111.52 194.39L110.23 193.09L108.93 192.44ZM119.95 196.98L121.89 196.98L123.19 197.63L124.48 198.92L125.13 200.87L125.13 202.16L124.48 204.11L123.19 205.40L121.89 206.05L119.95 206.05L118.65 205.40L117.35 204.11L117.35 198.92L118.65 197.63ZM121.89 196.98L119.95 196.98L118.65 197.63L117.35 198.92L117.35 196.98L117.35 210.59L117.35 204.11L118.65 205.40L119.95 206.05L121.89 206.05L123.19 205.40L124.48 204.11L125.13 202.16L125.13 200.87L124.48 198.92L123.19 197.63ZM130.31 192.44L130.31 196.98L128.37 196.98L130.31 196.98L130.31 203.46L130.96 205.40L132.26 206.05L133.55 206.05L132.26 206.05L130.96 205.40L130.31 203.46L130.31 196.98L132.91 196.98L130.31 196.98ZM137.44 196.98L137.44 206.05ZM137.44 191.79L138.09 192.44L137.44 193.09L136.79 192.44ZM137.44 191.79L136.79 192.44L137.44 193.09L138.09 192.44ZM145.22 196.98L147.16 196.98L148.46 197.63L149.75 198.92L148.46 197.63L147.16 196.98L145.22 196.98L143.92 197.63L142.63 198.92L141.98 200.87L141.98 202.16L142.63 204.11L143.92 205.40L145.22 206.05L147.16 206.05L148.46 205.40L149.75 204.11L148.46 205.40L147.16 206.05L145.22 206.05L143.92 205.40L142.63 204.11L141.98 202.16L141.98 200.87L142.63 198.92L143.92 197.63ZM156.88 196.98L158.83 196.98L160.12 197.63L161.42 198.92L161.42 204.11L160.12 205.40L158.83 206.05L156.88 206.05L155.59 205.40L154.29 204.11L153.64 202.16L153.64 200.87L154.29 198.92L155.59 197.63ZM155.59 197.63L154.29 198.92L153.64 200.87L153.64 202.16L154.29 204.11L155.59 205.40L156.88 206.05L158.83 206.05L160.12 205.40L161.42 204.11L161.42 206.05L161.42 196.98L161.42 198.92L160.12 197.63L158.83 196.98L156.88 196.98ZM166.60 192.44L166.60 206.05Z" stroke="#111" stroke-width="1.25" fill="none" stroke-linejoin="round" stroke-linecap="round"/>
<path d="M491.65 192.15L496.19 199.17L491.65 205.55L496.19 199.17L500.72 205.55L496.19 199.17L500.72 192.15L496.19 199.17ZM505.26 199.81L516.92 199.81ZM527.29 196.62L525.35 196.62L524.05 197.26L522.75 198.53L522.11 200.45L522.11 196.62L522.11 205.55L522.11 200.45L522.75 198.53L524.05 197.26L525.35 196.62ZM533.12 196.62L535.07 196.62L536.36 197.26L537.66 198.53L537.66 203.64L536.36 204.91L535.07 205.55L533.12 205.55L531.83 204.91L530.53 203.64L529.88 201.72L529.88 200.45L530.53 198.53L531.83 197.26ZM531.83 197.26L530.53 198.53L529.88 200.45L529.88 201.72L530.53 203.64L531.83 204.91L533.12 205.55L535.07 205.55L536.36 204.91L537.66 203.64L537.66 205.55L537.66 196.62L537.66 198.53L536.36 197.26L535.07 196.62L533.12 196.62ZM549.32 196.62L545.43 205.55L541.55 196.62L545.43 205.55L544.14 208.10L542.84 209.38L541.55 210.02L540.90 210.02L541.55 210.02L542.84 209.38L544.14 208.10L545.43 205.55Z" stroke="#111" stroke-width="1.25" fill="none" stroke-linejoin="round" stroke-linecap="round"/>
<path d="M591.83 41.34L590.54 41.34L589.24 41.99L588.59 43.93L588.59 45.88L586.65 45.88L588.59 45.88L588.59 54.95L588.59 45.88L591.19 45.88L588.59 45.88L588.59 43.93L589.24 41.99L590.54 41.34ZM598.31 45.88L600.26 45.88L601.55 46.53L602.85 47.82L603.50 49.77L603.50 51.06L602.85 53.01L601.55 54.30L600.26 54.95L598.31 54.95L597.02 54.30L595.72 53.01L595.07 51.06L595.07 49.77L595.72 47.82L597.02 46.53ZM598.31 45.88L597.02 46.53L595.72 47.82L595.07 49.77L595.07 51.06L595.72 53.01L597.02 54.30L598.31 54.95L600.26 54.95L601.55 54.30L602.85 53.01L603.50 51.06L603.50 49.77L602.85 47.82L601.55 46.53L600.26 45.88ZM608.03 46.53L607.39 47.82L608.03 49.12L609.33 49.77L612.57 50.41L613.87 51.06L614.51 52.36L614.51 53.01L613.87 54.30L611.92 54.95L609.98 54.95L608.03 54.30L607.39 53.01L608.03 54.30L609.98 54.95L611.92 54.95L613.87 54.30L614.51 53.01L614.51 52.36L613.87 51.06L612.57 50.41L609.33 49.77L608.03 49.12L607.39 47.82L608.03 46.53L609.98 45.88L611.92 45.88L613.87 46.53L614.51 47.82L613.87 46.53L611.92 45.88L609.98 45.88ZM619.05 46.53L618.40 47.82L619.05 49.12L620.35 49.77L623.59 50.41L624.88 51.06L625.53 52.36L625.53 53.01L624.88 54.30L622.94 54.95L620.99 54.95L619.05 54.30L618.40 53.01L619.05 54.30L620.99 54.95L622.94 54.95L624.88 54.30L625.53 53.01L625.53 52.36L624.88 51.06L623.59 50.41L620.35 49.77L619.05 49.12L618.40 47.82L619.05 46.53L620.99 45.88L622.94 45.88L624.88 46.53L625.53 47.82L624.88 46.53L622.94 45.88L620.99 45.88ZM630.07 45.88L630.07 54.95ZM630.07 40.69L630.71 41.34L630.07 41.99L629.42 41.34ZM630.07 40.69L629.42 41.34L630.07 41.99L630.71 41.34ZM635.25 41.34L635.25 54.95Z" stroke="#111" stroke-width="1.25" fill="none" stroke-linejoin="round" stroke-linecap="round"/>
<path d="M373.85 269.8V257.20" stroke="#111" stroke-width="1.1" fill="none" stroke-linecap="round"/>
<path d="M380.49 261.40L382.31 261.40L383.53 262.00L384.74 263.20L385.35 265.00L385.35 266.20L384.74 268.00L383.53 269.20L382.31 269.80L380.49 269.80L379.27 269.20L378.06 268.00L377.45 266.20L377.45 265.00L378.06 263.20L379.27 262.00ZM380.49 261.40L379.27 262.00L378.06 263.20L377.45 265.00L377.45 266.20L378.06 268.00L379.27 269.20L380.49 269.80L382.31 269.80L383.53 269.20L384.74 268.00L385.35 266.20L385.35 265.00L384.74 263.20L383.53 262.00L382.31 261.40Z" stroke="#111" stroke-width="1.1" fill="none" stroke-linejoin="round" stroke-linecap="round"/>
<path d="M392.99 261.40L395.12 261.40L396.53 262.00L397.95 263.20L397.95 268.00L396.53 269.20L395.12 269.80L392.99 269.80L391.57 269.20L390.16 268.00L389.45 266.20L389.45 265.00L390.16 263.20L391.57 262.00ZM397.95 261.40L397.95 263.20L396.53 262.00L395.12 261.40L392.99 261.40L391.57 262.00L390.16 263.20L389.45 265.00L389.45 266.20L390.16 268.00L391.57 269.20L392.99 269.80L395.12 269.80L396.53 269.20L397.95 268.00L397.95 271.30L397.24 273.55L396.53 274.30L395.12 275.05L392.99 275.05L391.57 274.30L392.99 275.05L395.12 275.05L396.53 274.30L397.24 273.55L397.95 271.30Z" stroke="#111" stroke-width="1.1" fill="none" stroke-linejoin="round" stroke-linecap="round"/>
<path d="M402.35 254.80L402.35 275.05L405.95 275.05L402.35 275.05L402.35 254.80L405.95 254.80Z" stroke="#111" stroke-width="1.1" fill="none" stroke-linejoin="round" stroke-linecap="round"/>
<path d="M410.35 257.20L410.35 269.80L410.35 257.20L415.00 269.80L419.65 257.20L419.65 269.80L419.65 257.20L415.00 269.80Z" stroke="#111" stroke-width="1.1" fill="none" stroke-linejoin="round" stroke-linecap="round"/>
<path d="M440.25 254.80L430.15 275.05Z" stroke="#111" stroke-width="1.1" fill="none" stroke-linejoin="round" stroke-linecap="round"/>
<path d="M447.75 254.80L446.75 256.00L445.75 257.80L444.75 260.20L444.25 263.20L444.25 265.60L444.75 268.60L445.75 271.30L446.75 273.55L447.75 275.05L446.75 273.55L445.75 271.30L444.75 268.60L444.25 265.60L444.25 263.20L444.75 260.20L445.75 257.80L446.75 256.00Z" stroke="#111" stroke-width="1.1" fill="none" stroke-linejoin="round" stroke-linecap="round"/>
<path d="M452.35 257.20L452.35 269.80L452.35 263.80L454.37 262.00L455.71 261.40L457.73 261.40L459.08 262.00L459.75 263.80L459.75 269.80L459.75 263.80L459.08 262.00L457.73 261.40L455.71 261.40L454.37 262.00L452.35 263.80Z" stroke="#111" stroke-width="1.1" fill="none" stroke-linejoin="round" stroke-linecap="round"/>
<path d="M476.65 257.20L476.65 269.80L476.65 257.20L481.75 269.80L486.85 257.20L486.85 269.80L486.85 257.20L481.75 269.80Z" stroke="#111" stroke-width="1.1" fill="none" stroke-linejoin="round" stroke-linecap="round"/>
<path d="M498.75 254.80L499.78 256.00L500.81 257.80L501.84 260.20L502.35 263.20L502.35 265.60L501.84 268.60L500.81 271.30L499.78 273.55L498.75 275.05L499.78 273.55L500.81 271.30L501.84 268.60L502.35 265.60L502.35 263.20L501.84 260.20L500.81 257.80L499.78 256.00Z" stroke="#111" stroke-width="1.1" fill="none" stroke-linejoin="round" stroke-linecap="round"/>
<path d="M507.65 254.80L511.25 254.80L511.25 275.05L507.65 275.05L511.25 275.05L511.25 254.80Z" stroke="#111" stroke-width="1.1" fill="none" stroke-linejoin="round" stroke-linecap="round"/>
<path d="M424.50 267.54L424.50 272.05L424.50 269.90L425.32 269.25L425.86 269.04L426.68 269.04L427.23 269.25L427.50 269.90L427.50 272.05L427.50 269.90L427.23 269.25L426.68 269.04L425.86 269.04L425.32 269.25L424.50 269.90Z" stroke="#111" stroke-width="1.2" fill="none" stroke-linejoin="round" stroke-linecap="round"/>
<path d="M463.3 259H467.8M470.9 258.0L472.6 257.1V260.5" stroke="#111" stroke-width="1.15" fill="none" stroke-linecap="round" stroke-linejoin="round"/>
<circle cx="493.25" cy="270.3" r="2.95" stroke="#111" stroke-width="1.0" fill="none"/><circle cx="493.25" cy="270.3" r="0.8" fill="#111"/>
</svg></body></html>
